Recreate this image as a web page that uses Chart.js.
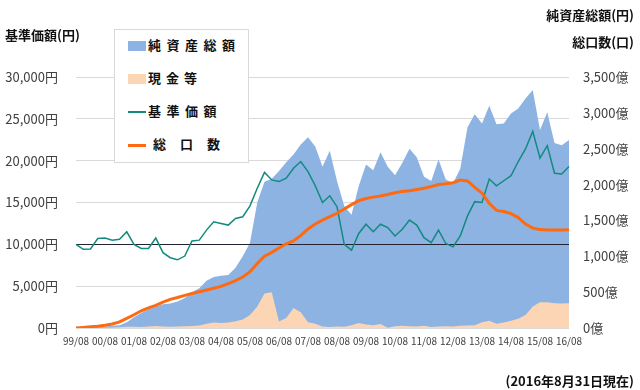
<!DOCTYPE html>
<html>
<head>
<meta charset="utf-8">
<script src="https://cdn.jsdelivr.net/npm/chart.js@4"></script>
<style>
  body { margin: 0; background: #fff; font-family: "Noto Sans CJK JP", sans-serif; }
  #wrap { position: relative; width: 640px; height: 390px; }
  #chart { position: absolute; left: 0; top: 0; }
  .ttl { position: absolute; font-weight: bold; font-size: 13px; color: #111; white-space: nowrap; line-height: 1; }
  #legend { position: absolute; left: 114px; top: 29px; width: 135px; height: 134px; background: #fff; border: 1px solid #d9d9d9; box-sizing: border-box; }
  .item { position: absolute; left: 13px; height: 16px; font-weight: bold; font-size: 13px; color: #111; white-space: nowrap; line-height: 16px; }
  .sw { display: inline-block; width: 18px; vertical-align: middle; margin-right: 2px; }
</style>
</head>
<body>
<div id="wrap">
  <canvas id="chart" width="640" height="390"></canvas>
  <div class="ttl" style="left:5px; top:28px;">基準価額(円)</div>
  <div class="ttl" style="right:6px; top:8px;">純資産総額(円)</div>
  <div class="ttl" style="right:6px; top:35px;">総口数(口)</div>
  <div class="ttl" style="right:6px; top:374px;">(2016年8月31日現在)</div>
  <div id="legend">
    <div class="item" style="top:7px;"><span class="sw" style="height:10px; background:#8db3e2;"></span><span style="letter-spacing:5.5px;">純資産総額</span></div>
    <div class="item" style="top:40px;"><span class="sw" style="height:10px; background:#fcd5b4;"></span><span style="letter-spacing:5px;">現金等</span></div>
    <div class="item" style="top:73px;"><span class="sw" style="height:2px; background:#138a7e;"></span><span style="letter-spacing:5.5px;">基準価額</span></div>
    <div class="item" style="top:106px;"><span class="sw" style="height:3px; background:#ff6a10;"></span><span style="letter-spacing:14px; margin-left:5px;">総口数</span></div>
  </div>
</div>
<script>
// 四半期ごとのデータ (99/08 ～ 16/08)
const labels = [
  '99/08','99/11',
  '00/02','00/05','00/08','00/11',
  '01/02','01/05','01/08','01/11',
  '02/02','02/05','02/08','02/11',
  '03/02','03/05','03/08','03/11',
  '04/02','04/05','04/08','04/11',
  '05/02','05/05','05/08','05/11',
  '06/02','06/05','06/08','06/11',
  '07/02','07/05','07/08','07/11',
  '08/02','08/05','08/08','08/11',
  '09/02','09/05','09/08','09/11',
  '10/02','10/05','10/08','10/11',
  '11/02','11/05','11/08','11/11',
  '12/02','12/05','12/08','12/11',
  '13/02','13/05','13/08','13/11',
  '14/02','14/05','14/08','14/11',
  '15/02','15/05','15/08','15/11',
  '16/02','16/05','16/08'
];

// 基準価額 (円)
const navPrice = [
  10000, 9400,
  9450, 10700, 10750, 10500,
  10600, 11500, 10000, 9500,
  9500, 10750, 9000, 8400,
  8150, 8600, 10400, 10500,
  11700, 12700, 12500, 12300,
  13100, 13300, 14600, 16700,
  18600, 17700, 17500, 17900,
  19100, 19900, 18700, 17000,
  15000, 15800, 14500, 10000,
  9300, 11300, 12400, 11500,
  12400, 12000, 11000, 11800,
  12900, 12300, 10800, 10200,
  11700, 10100, 9700, 11000,
  13400, 15100, 15000, 17800,
  17000, 17600, 18200, 19900,
  21400, 23500, 20300, 21800,
  18500, 18400, 19300
];

// 純資産総額 (億円)
const netAssets = [
  5, 8,
  12, 15, 20, 30,
  40, 80, 150, 210,
  260, 300, 330, 340,
  370, 420, 500, 555,
  660, 710, 730, 740,
  840, 1000, 1190, 1750,
  2040, 2080, 2190, 2310,
  2420, 2560, 2660, 2530,
  2250, 2470, 2050, 1700,
  1580, 1980, 2280, 2200,
  2450, 2250, 2130, 2300,
  2500, 2380, 2110, 2050,
  2350, 2070, 2020, 2220,
  2800, 2980, 2850, 3100,
  2840, 2850, 2990, 3060,
  3200, 3320, 2760, 3010,
  2580, 2550, 2620
];

// 現金等 (億円)
const cash = [
  0, 0,
  2, 3, 5, 8,
  10, 18, 18, 15,
  22, 28, 20, 18,
  22, 25, 28, 35,
  60, 75, 70, 75,
  95, 120, 180, 300,
  480, 500, 90, 140,
  280, 220, 80, 60,
  20, 15, 20, 18,
  40, 70, 50, 40,
  55, 5, 25, 30,
  25, 20, 30, 15,
  20, 25, 20, 30,
  35, 40, 80, 100,
  60, 75, 100, 130,
  180, 300, 360, 360,
  345, 340, 345
];

// 総口数 (億口)
const totalUnits = [
  0, 8,
  18, 25, 38, 55,
  85, 135, 185, 240,
  280, 315, 360, 400,
  425, 455, 480, 505,
  530, 555, 580, 620,
  660, 710, 785, 900,
  1000, 1055, 1115, 1175,
  1215, 1290, 1380, 1450,
  1505, 1552, 1600, 1660,
  1720, 1775, 1805, 1825,
  1840, 1862, 1885, 1905,
  1914, 1930, 1950, 1972,
  2000, 2010, 2026, 2063,
  2050, 1960, 1880, 1740,
  1640, 1625, 1595, 1540,
  1450, 1395, 1372, 1366,
  1366, 1366, 1370
];

const BASE_PRICE = 10000;

const tickColor = '#404040';
const fontFamily = '"Noto Sans CJK JP", sans-serif';

// 基準価額 10,000円 の基準線 (現金等の面を描いた直後に描く)
const baseLinePlugin = {
  id: 'baseLine',
  afterDatasetDraw(chart, args) {
    if (args.index !== 1) return;
    const ctx = chart.ctx;
    const y = chart.scales.y.getPixelForValue(BASE_PRICE);
    ctx.save();
    ctx.strokeStyle = '#222233';
    ctx.lineWidth = 1;
    ctx.beginPath();
    ctx.moveTo(chart.chartArea.left, Math.round(y) + 0.5);
    ctx.lineTo(chart.chartArea.right, Math.round(y) + 0.5);
    ctx.stroke();
    ctx.restore();
  }
};

new Chart(document.getElementById('chart'), {
  type: 'line',
  data: {
    labels: labels,
    datasets: [
      {
        label: '純資産総額',
        data: netAssets,
        yAxisID: 'y2',
        backgroundColor: '#8db3e2',
        borderWidth: 0,
        fill: 'origin',
        pointRadius: 0,
        order: 4
      },
      {
        label: '現金等',
        data: cash,
        yAxisID: 'y2',
        backgroundColor: '#fcd5b4',
        borderWidth: 0,
        fill: 'origin',
        pointRadius: 0,
        order: 3
      },
      {
        label: '基準価額',
        data: navPrice,
        yAxisID: 'y',
        borderColor: '#138a7e',
        borderWidth: 1.5,
        fill: false,
        pointRadius: 0,
        order: 2
      },
      {
        label: '総口数',
        data: totalUnits,
        yAxisID: 'y2',
        borderColor: '#ff6a10',
        borderWidth: 3,
        fill: false,
        pointRadius: 0,
        order: 1
      }
    ]
  },
  options: {
    responsive: false,
    animation: false,
    layout: { padding: { top: 77, left: 0, right: 0, bottom: 0 } },
    plugins: {
      legend: { display: false },
      tooltip: { enabled: false }
    },
    scales: {
      x: {
        offset: false,
        grid: { display: false, drawTicks: false },
        border: { display: false },
        ticks: {
          autoSkip: false,
          maxRotation: 0,
          padding: 7,
          color: tickColor,
          font: { family: fontFamily, size: 10 },
          callback: function(value) {
            const lab = this.getLabelForValue(value);
            return lab.endsWith('/08') ? lab : null;
          }
        },
        afterFit: function(scale) { scale.height = 62; }
      },
      y: {
        position: 'left',
        min: 0,
        max: 30000,
        grid: { color: '#d9d9d9', drawTicks: false },
        border: { display: false },
        ticks: {
          stepSize: 5000,
          padding: 18,
          color: tickColor,
          font: { family: fontFamily, size: 13 },
          callback: v => v.toLocaleString('en-US') + '円'
        },
        afterFit: function(scale) { scale.width = 76; }
      },
      y2: {
        position: 'right',
        min: 0,
        max: 3500,
        grid: { display: false, drawTicks: false },
        border: { display: false },
        ticks: {
          stepSize: 500,
          padding: 14,
          color: tickColor,
          font: { family: fontFamily, size: 13 },
          callback: v => v.toLocaleString('en-US') + '億'
        },
        afterFit: function(scale) { scale.width = 71; }
      }
    }
  },
  plugins: [baseLinePlugin]
});
</script>
</body>
</html>
